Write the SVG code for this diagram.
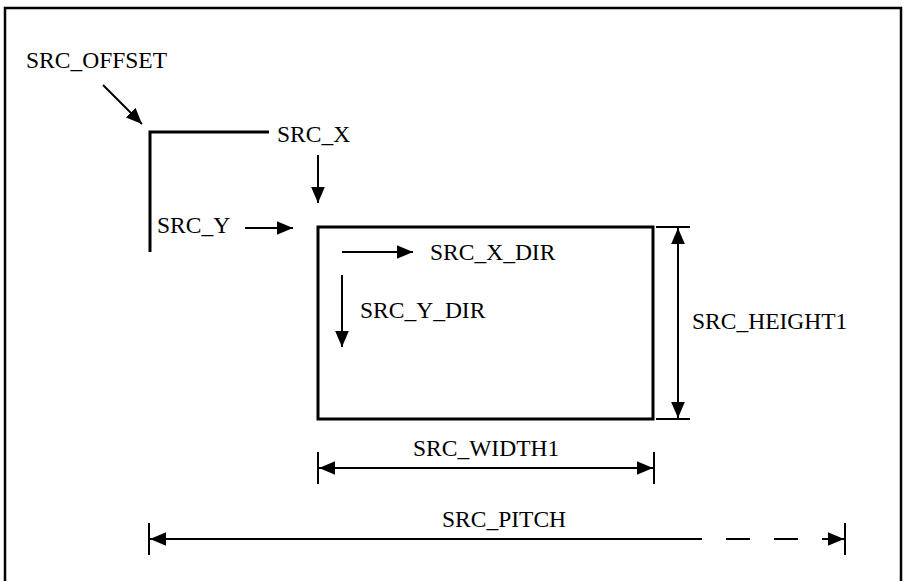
<svg xmlns="http://www.w3.org/2000/svg" width="906" height="581" viewBox="0 0 906 581">
<defs>
<style>
text{font-family:"Liberation Serif","Times New Roman",serif;font-size:23.5px;fill:#000}
.ln{stroke:#000;stroke-width:2;fill:none}
.thick{stroke:#000;stroke-width:3;fill:none}
</style>
<marker id="ah" markerUnits="userSpaceOnUse" markerWidth="16" markerHeight="14" refX="14" refY="6" orient="auto-start-reverse" viewBox="0 0 14 12">
<path d="M0,0 L14,6 L0,12 Z" fill="#000"/>
</marker>
</defs>
<rect width="906" height="581" fill="#fff"/>
<rect x="5" y="8" width="896" height="585" fill="none" stroke="#000" stroke-width="2.5"/>
<g id="offset">
<text x="26" y="68">SRC_OFFSET</text>
</g>
<g id="bracket">
<path class="thick" d="M269,132 H150 V252"/>
</g>
<g id="srcx"><text x="277" y="142">SRC_X</text></g>
<g id="srcy"><text x="157" y="233">SRC_Y</text></g>
<g id="surface">
<rect x="318" y="227" width="335" height="192" class="thick"/>
</g>
<g id="xdir"><text x="430" y="260">SRC_X_DIR</text></g>
<g id="ydir"><text x="360" y="318">SRC_Y_DIR</text></g>
<g id="height"><text x="692" y="329">SRC_HEIGHT1</text></g>
<g id="width"><text x="413" y="456">SRC_WIDTH1</text></g>
<g id="pitch"><text x="442" y="527">SRC_PITCH</text></g>
<g id="connectors">
<line class="ln" x1="103" y1="85" x2="142" y2="124" marker-end="url(#ah)"/>
<line class="ln" x1="318" y1="155" x2="318" y2="203" marker-end="url(#ah)"/>
<line class="ln" x1="245" y1="228" x2="293" y2="228" marker-end="url(#ah)"/>
<line class="ln" x1="342" y1="252" x2="413" y2="252" marker-end="url(#ah)"/>
<line class="ln" x1="342" y1="275" x2="342" y2="347" marker-end="url(#ah)"/>
<line class="ln" x1="656" y1="227" x2="690" y2="227"/>
<line class="ln" x1="656" y1="419" x2="690" y2="419"/>
<line class="ln" x1="678" y1="228" x2="678" y2="418" marker-start="url(#ah)" marker-end="url(#ah)"/>
<line class="ln" x1="318" y1="452" x2="318" y2="484"/>
<line class="ln" x1="654" y1="452" x2="654" y2="484"/>
<line class="ln" x1="319" y1="468" x2="653" y2="468" marker-start="url(#ah)" marker-end="url(#ah)"/>
<line class="ln" x1="149" y1="523" x2="149" y2="555"/>
<line class="ln" x1="845" y1="523" x2="845" y2="555"/>
<line class="ln" x1="150" y1="539" x2="702" y2="539" marker-start="url(#ah)"/>
<line class="ln" x1="726" y1="539" x2="750" y2="539"/>
<line class="ln" x1="774" y1="539" x2="798" y2="539"/>
<line class="ln" x1="822" y1="539" x2="844" y2="539" marker-end="url(#ah)"/>
</g>
</svg>
